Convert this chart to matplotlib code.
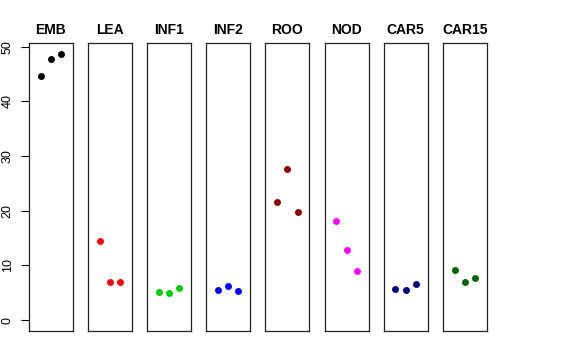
import matplotlib
matplotlib.use("Agg")
import matplotlib.pyplot as plt

# -------------------------------
# Data
# -------------------------------
tissues = ["EMB", "LEA", "INF1", "INF2", "ROO", "NOD", "CAR5", "CAR15"]
colors = ["black", "red", "#00CD00", "blue", "#8B0000", "magenta", "#000080", "#006400"]
reps = [1, 2, 3]
values = [
    [44.6, 47.7, 48.7],
    [14.45, 7.0, 6.9],
    [5.1, 5.0, 5.85],
    [5.45, 6.15, 5.3],
    [21.5, 27.7, 19.75],
    [18.1, 12.8, 8.9],
    [5.67, 5.5, 6.6],
    [9.2, 6.9, 7.65],
]
yticks = [0, 10, 20, 30, 40, 50]

plt.rcParams['font.family'] = ['Liberation Sans', 'DejaVu Sans']

W, H = 576, 360
fig = plt.figure(figsize=(W / 100, H / 100), dpi=100)

# panel geometry in pixels
left0, step, pw = 29, 59.1, 44
top, bottom = 43.3, 331

for i, (name, col, vals) in enumerate(zip(tissues, colors, values)):
    x0 = left0 + i * step
    ax = fig.add_axes([x0 / W, (H - bottom) / H, pw / W, (bottom - top) / H])
    ax.plot(reps, vals, 'o', color=col, markersize=5, markeredgewidth=0)
    ax.set_xlim(-0.16, 4.16)
    ax.set_ylim(-2.0, 50.6)
    ax.set_xticks([])
    for s in ax.spines.values():
        s.set_linewidth(0.9)
        s.set_color('#222222')
    ax.set_title(name, fontsize=10, fontweight='bold', pad=6.5)
    if i == 0:
        ax.set_yticks(yticks)
        ax.set_yticklabels([str(t) for t in yticks], rotation=90, va='center', fontsize=9)
        ax.tick_params(axis='y', length=5.5, width=0.8, pad=5.5)
    else:
        ax.set_yticks([])

fig.savefig("out.png", dpi=100)
